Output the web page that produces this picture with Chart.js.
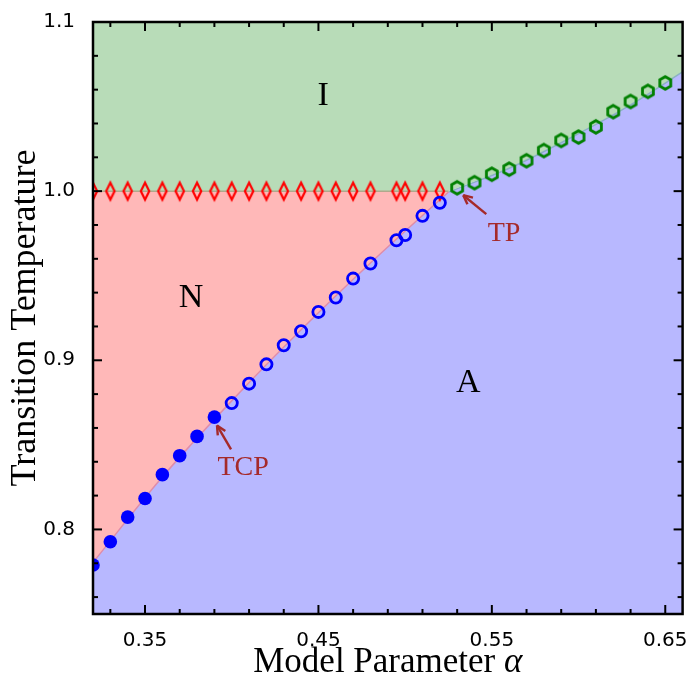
<!DOCTYPE html>
<html>
<head>
<meta charset="utf-8">
<script src="https://cdn.jsdelivr.net/npm/chart.js@4.4.0/dist/chart.umd.min.js"></script>
<style>
  html, body { margin: 0; padding: 0; background: #fff; }
  #wrap { width: 691px; height: 679px; position: relative; }
</style>
</head>
<body>
<div id="wrap"><canvas id="phase"></canvas></div>
<script>
"use strict";

// axis ticks
const X_TICKS = [0.33, 0.35, 0.37, 0.39, 0.41, 0.43, 0.45, 0.47, 0.49, 0.51, 0.53, 0.55, 0.57, 0.59, 0.61, 0.63, 0.65];
const X_LABELS = ["", "0.35", "", "", "", "", "0.45", "", "", "", "", "0.55", "", "", "", "", "0.65"];
const Y_TICKS = [0.76, 0.78, 0.8, 0.82, 0.84, 0.86, 0.88, 0.9, 0.92, 0.94, 0.96, 0.98, 1.0, 1.02, 1.04, 1.06, 1.08, 1.1];
const Y_LABELS = ["", "", "0.8", "", "", "", "", "0.9", "", "", "", "", "1.0", "", "", "", "", "1.1"];

// measured transitions
const BLUE_FILLED_X = [0.32, 0.33, 0.34, 0.35, 0.36, 0.37, 0.38, 0.39];
const BLUE_FILLED_Y = [0.779, 0.7927, 0.8073, 0.8183, 0.8324, 0.8436, 0.855, 0.8664];
const BLUE_OPEN_X = [0.40, 0.41, 0.42, 0.43, 0.44, 0.45, 0.46, 0.47, 0.48, 0.495, 0.50, 0.51, 0.52];
const BLUE_OPEN_Y = [0.8747, 0.8862, 0.8976, 0.9089, 0.9172, 0.9286, 0.9371, 0.9483, 0.9572, 0.971, 0.9741, 0.9854, 0.9931];
const RED_X = [0.32, 0.33, 0.34, 0.35, 0.36, 0.37, 0.38, 0.39, 0.40, 0.41, 0.42, 0.43, 0.44, 0.45, 0.46, 0.47, 0.48, 0.495, 0.50, 0.51, 0.52];
const RED_Y = [1.0, 1.0, 1.0, 1.0, 1.0, 1.0, 1.0, 1.0, 1.0, 1.0, 1.0, 1.0, 1.0, 1.0, 1.0, 1.0, 1.0, 1.0, 1.0, 1.0, 1.0];
const GREEN_X = [0.53, 0.54, 0.55, 0.56, 0.57, 0.58, 0.59, 0.60, 0.61, 0.62, 0.63, 0.64, 0.65];
const GREEN_Y = [1.002, 1.005, 1.010, 1.013, 1.018, 1.024, 1.030, 1.032, 1.038, 1.047, 1.053, 1.059, 1.064];

// phase boundaries (fitted curves)
const IN_X = [0.32, 0.525];
const IN_Y = [1.0, 1.0];
const NA_X = [0.32, 0.36, 0.40, 0.44, 0.48, 0.525];
const NA_Y = [0.7805, 0.831, 0.876, 0.918, 0.9575, 0.9995];
const IA_X = [0.525, 0.56, 0.60, 0.63, 0.66];
const IA_Y = [0.9995, 1.0135, 1.034, 1.051, 1.0705];

// region labels and arrows
const REGION_TEXT = ["I", "N", "A"];
const REGION_X = [0.4527, 0.3765, 0.5364];
const REGION_Y = [1.0562, 0.9367, 0.8864];
const NOTE_TEXT = ["TP", "TCP"];
const NOTE_X = [0.557, 0.4066];
const NOTE_Y = [0.9746, 0.8367];
const ARROW_FROM = [[0.5468, 0.9864], [0.3996, 0.8473]];
const ARROW_TO = [[0.5335, 0.9976], [0.3915, 0.8615]];

const COLORS = {
  green: "rgb(184, 220, 184)",
  pink: "rgb(255, 184, 184)",
  blue: "rgb(184, 184, 255)",
  inLine: "rgb(176, 168, 140)",
  naLine: "rgb(222, 140, 170)",
  iaLine: "rgb(140, 178, 196)",
  note: "#a52a2a",
};

const pts = (xs, ys) => xs.map((x, i) => ({ x, y: ys[i] }));

function diamondMarker() {
  const c = document.createElement("canvas");
  c.width = 14; c.height = 24;
  const g = c.getContext("2d");
  g.strokeStyle = "#ff0000";
  g.lineWidth = 2.2;
  g.beginPath();
  g.moveTo(7, 3.4); g.lineTo(11.2, 12); g.lineTo(7, 20.6); g.lineTo(2.8, 12); g.closePath();
  g.stroke();
  return c;
}

function hexMarker() {
  const c = document.createElement("canvas");
  c.width = 20; c.height = 20;
  const g = c.getContext("2d");
  g.strokeStyle = "#008000";
  g.lineWidth = 2.8;
  g.beginPath();
  for (let k = 0; k < 6; k++) {
    const a = -Math.PI / 2 + k * Math.PI / 3;
    const px = 10 + 6.3 * Math.cos(a), py = 10 + 6.3 * Math.sin(a);
    k ? g.lineTo(px, py) : g.moveTo(px, py);
  }
  g.closePath();
  g.stroke();
  return c;
}

function line(ctx, x1, y1, x2, y2) {
  ctx.beginPath();
  ctx.moveTo(x1, y1);
  ctx.lineTo(x2, y2);
  ctx.stroke();
}

const decor = {
  id: "decor",
  afterDatasetsDraw(chart) {
    const { ctx, scales: { x, y } } = chart;
    ctx.save();
    ctx.fillStyle = "#000";
    ctx.textAlign = "center";
    ctx.textBaseline = "middle";
    ctx.font = "34px 'Liberation Serif'";
    REGION_TEXT.forEach((t, i) => ctx.fillText(t, x.getPixelForValue(REGION_X[i]), y.getPixelForValue(REGION_Y[i])));

    ctx.fillStyle = COLORS.note;
    ctx.strokeStyle = COLORS.note;
    ctx.font = "28px 'Liberation Serif'";
    NOTE_TEXT.forEach((t, i) => ctx.fillText(t, x.getPixelForValue(NOTE_X[i]), y.getPixelForValue(NOTE_Y[i])));
    ctx.lineWidth = 2.4;
    ARROW_FROM.forEach((from, i) => {
      const x1 = x.getPixelForValue(from[0]), y1 = y.getPixelForValue(from[1]);
      const x2 = x.getPixelForValue(ARROW_TO[i][0]), y2 = y.getPixelForValue(ARROW_TO[i][1]);
      line(ctx, x1, y1, x2, y2);
      const ang = Math.atan2(y1 - y2, x1 - x2);
      [-0.45, 0.45].forEach(d => line(ctx, x2, y2, x2 + 10 * Math.cos(ang + d), y2 + 10 * Math.sin(ang + d)));
    });
    ctx.restore();
  },
  afterDraw(chart) {
    const { ctx, chartArea: a, scales: { x, y } } = chart;
    ctx.save();
    ctx.strokeStyle = "#000";
    ctx.lineWidth = 2;
    X_TICKS.forEach((v, i) => {
      const px = x.getPixelForValue(v);
      const len = X_LABELS[i] ? 9 : 5;
      line(ctx, px, a.bottom, px, a.bottom - len);
      line(ctx, px, a.top, px, a.top + len);
    });
    Y_TICKS.forEach((v, i) => {
      const py = y.getPixelForValue(v);
      const len = Y_LABELS[i] ? 9 : 5;
      line(ctx, a.left, py, a.left + len, py);
      line(ctx, a.right, py, a.right - len, py);
    });
    ctx.lineWidth = 2.5;
    ctx.strokeRect(a.left, a.top, a.right - a.left, a.bottom - a.top);

    // axis titles
    ctx.fillStyle = "#000";
    ctx.textBaseline = "alphabetic";
    const main = "Model Parameter ";
    ctx.font = "35px 'Liberation Serif'";
    const w1 = ctx.measureText(main).width;
    ctx.font = "italic 35px 'Liberation Serif'";
    const w2 = ctx.measureText("α").width;
    const cx = (a.left + a.right) / 2;
    const start = cx - (w1 + w2) / 2;
    ctx.textAlign = "left";
    ctx.font = "35px 'Liberation Serif'";
    ctx.fillText(main, start, 672);
    ctx.font = "italic 35px 'Liberation Serif'";
    ctx.fillText("α", start + w1, 672);

    ctx.translate(35, (a.top + a.bottom) / 2);
    ctx.rotate(-Math.PI / 2);
    ctx.textAlign = "center";
    ctx.font = "36px 'Liberation Serif'";
    ctx.fillText("Transition Temperature", 0, 0);
    ctx.restore();
  },
};

const datasets = [
  {
    data: pts(BLUE_FILLED_X, BLUE_FILLED_Y), order: 1,
    pointStyle: "circle", pointRadius: 6.8, pointBackgroundColor: "#0000ff", pointBorderWidth: 0, showLine: false,
  },
  {
    data: pts(BLUE_OPEN_X, BLUE_OPEN_Y), order: 1,
    pointStyle: "circle", pointRadius: 5.6, pointBackgroundColor: "rgba(0,0,0,0)", pointBorderColor: "#0000ff", pointBorderWidth: 2.8, showLine: false,
  },
  { data: pts(RED_X, RED_Y), order: 1, pointStyle: diamondMarker(), pointRadius: 6, showLine: false },
  { data: pts(GREEN_X, GREEN_Y), order: 1, pointStyle: hexMarker(), pointRadius: 6, showLine: false },
  { data: pts(IN_X, IN_Y), order: 2, showLine: true, borderColor: COLORS.inLine, borderWidth: 1.5, pointRadius: 0 },
  { data: pts(NA_X, NA_Y), order: 2, showLine: true, borderColor: COLORS.naLine, borderWidth: 1.5, pointRadius: 0, cubicInterpolationMode: "monotone" },
  { data: pts(IA_X, IA_Y), order: 2, showLine: true, borderColor: COLORS.iaLine, borderWidth: 1.5, pointRadius: 0, cubicInterpolationMode: "monotone" },
  // region fills
  {
    data: pts([...IN_X, ...IA_X.slice(1)], [...IN_Y, ...IA_Y.slice(1)]), order: 3,
    showLine: true, borderWidth: 0, pointRadius: 0, fill: "end", backgroundColor: COLORS.green,
  },
  {
    data: pts([...NA_X, ...IA_X.slice(1)], [...NA_Y, ...IA_Y.slice(1)]), order: 3,
    showLine: true, borderWidth: 0, pointRadius: 0, fill: "start", backgroundColor: COLORS.blue,
  },
  {
    data: pts(IN_X, IN_Y), order: 3,
    showLine: true, borderWidth: 0, pointRadius: 0, fill: 5, backgroundColor: COLORS.pink,
  },
];
datasets.forEach(d => { d.clip = 0; });

new Chart(document.getElementById("phase"), {
  type: "scatter",
  data: { datasets },
  options: {
    responsive: true,
    maintainAspectRatio: false,
    animation: false,
    layout: { padding: { top: 22, right: 6, left: 0, bottom: 0 } },
    plugins: { legend: { display: false }, tooltip: { enabled: false } },
    scales: {
      x: {
        type: "linear", min: 0.32, max: 0.66,
        grid: { display: false }, border: { display: false },
        afterBuildTicks: s => { s.ticks = X_TICKS.map(v => ({ value: v })); },
        afterFit: s => { s.height = 65; s.paddingLeft = 0; s.paddingRight = 0; },
        ticks: {
          color: "#000", padding: 7, maxRotation: 0, autoSkip: false,
          font: { family: "DejaVu Sans", size: 20 },
          callback: (v, i) => X_LABELS[i],
        },
      },
      y: {
        type: "linear", min: 0.75, max: 1.1,
        grid: { display: false }, border: { display: false },
        afterBuildTicks: s => { s.ticks = Y_TICKS.map(v => ({ value: v })); },
        afterFit: s => { s.width = 93; s.paddingTop = 0; s.paddingBottom = 0; },
        ticks: {
          color: "#000", padding: 10, autoSkip: false,
          font: { family: "DejaVu Sans", size: 20 },
          callback: (v, i) => Y_LABELS[i],
        },
      },
    },
  },
  plugins: [decor],
});
</script>
</body>
</html>
